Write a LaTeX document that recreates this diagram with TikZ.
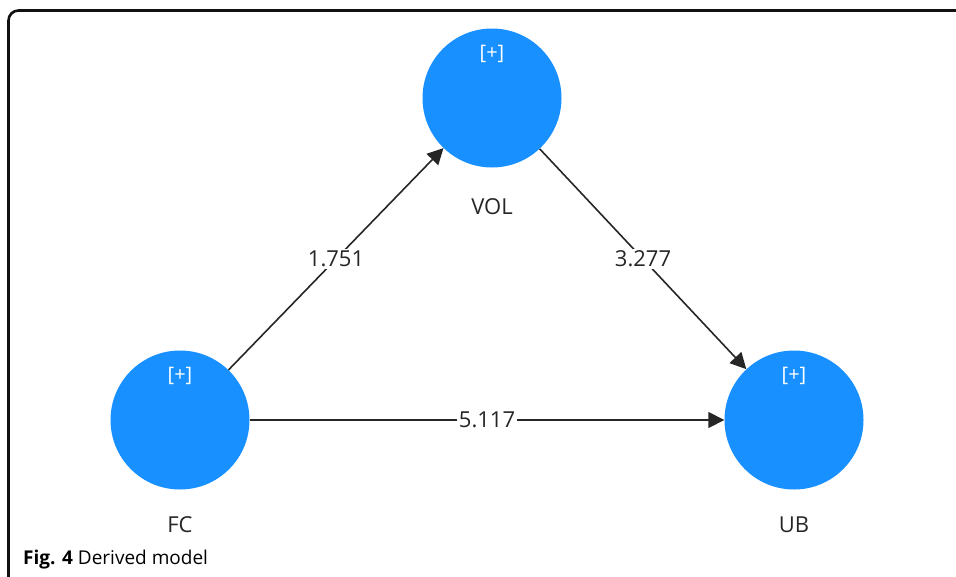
\documentclass[tikz,border=0pt]{standalone}
\usepackage{fontspec}
\setmainfont{Open Sans}
\usetikzlibrary{arrows.meta,positioning}
\definecolor{bubble}{HTML}{1890FF}
\definecolor{ink}{HTML}{262626}
\definecolor{frame}{HTML}{111111}

\begin{document}
\begin{tikzpicture}[x=1pt,y=-1pt,
  latent/.style={circle,fill=bubble,draw=none,minimum size=139pt,inner sep=0pt},
  plus/.style={text=white,font=\fontsize{20}{20}\selectfont},
  varname/.style={text=ink,anchor=base,font=\fontsize{22}{22}\selectfont},
  pathline/.style={draw=ink,line width=1.6pt,-{Triangle[length=16pt,width=16pt]}},
  coef/.style={fill=white,text=ink,inner sep=2pt,font=\fontsize{22}{22}\selectfont}]
\useasboundingbox (0,0) rectangle (956,576);
% --- open frame, rounded at the top left --------------------------------
\draw[frame,line width=2.6pt,rounded corners=10pt] (8.5,590) -- (8.5,10.5) -- (970,10.5);
% --- constructs ----------------------------------------------------------
\foreach \nm/\x/\y in {vol/492/98, fc/180/420, ub/794/420} {
  \node[latent] (\nm) at (\x,\y) {};
  \node[plus] (\nm-plus) at (\x,\y-44) {[+]};
}
\node[varname] (vol-name) at (492,214) {VOL};
\node[varname] (fc-name) at (180,532) {FC};
\node[varname] (ub-name) at (794,532) {UB};
% --- paths with their coefficients ---------------------------------------
\draw[pathline] (fc) -- node[coef] (c-fc-vol) {1.751} (vol);
\draw[pathline] (vol) -- node[coef] (c-vol-ub) {3.277} (ub);
\draw[pathline] (fc) -- node[coef] (c-fc-ub) {5.117} (ub);
% --- caption ---------------------------------------------------------------
\node[anchor=base west,inner sep=0pt,text=black,font=\fontsize{19}{19}\selectfont]
  (caption) at (23,564) {\textbf{Fig. 4} Derived model};
\end{tikzpicture}
\end{document}
